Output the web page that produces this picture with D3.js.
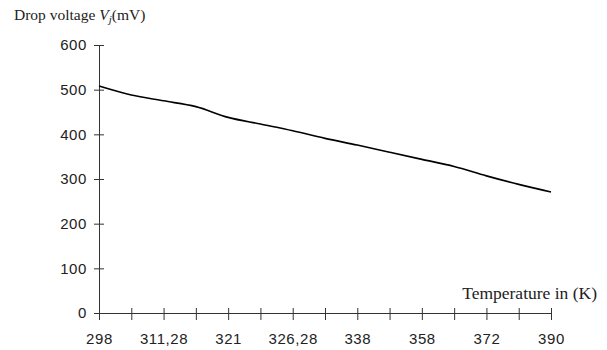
<!DOCTYPE html>
<html>
<head>
<meta charset="utf-8">
<script src="https://cdn.jsdelivr.net/npm/d3@7"></script>
<style>
  body { margin: 0; background: #fff; }
  .tick text { font-family: "Liberation Sans", Arial, sans-serif; font-size: 15px; letter-spacing: 0.6px; fill: #222; }
  .ttl { font-family: "Liberation Serif", "Times New Roman", serif; fill: #222; }
</style>
</head>
<body>
<script>
// data
var temps = ["298", "305", "311,28", "316", "321", "323", "326,28", "332", "338", "348", "358", "365", "372", "381", "390"];
var labelled = ["298", "311,28", "321", "326,28", "338", "358", "372", "390"];
var voltage = [508, 488, 475, 462, 438, 423, 408, 391, 376, 360, 344, 328, 307, 288, 271];
var yTicks = [0, 100, 200, 300, 400, 500, 600];

// graph
var W = 607, H = 350,
    margin = {top: 45, right: 56, bottom: 37, left: 99},
    width = W - margin.left - margin.right,
    height = H - margin.top - margin.bottom;

var svg = d3.select("body").append("svg")
    .attr("width", W)
    .attr("height", H)
  .append("g")
    .attr("transform", "translate(" + margin.left + "," + margin.top + ")");

var x = d3.scalePoint().domain(temps).range([0, width]);
var y = d3.scaleLinear().domain([0, 600]).range([height, 0]);

// axes
var yAxis = svg.append("g")
    .call(d3.axisLeft(y).tickValues(yTicks).tickSize(0).tickPadding(12));
yAxis.select(".domain").attr("stroke", "#333");
yAxis.selectAll(".tick").append("line")
    .attr("x1", -5).attr("x2", 5).attr("stroke", "#333");

var xAxis = svg.append("g")
    .attr("transform", "translate(0," + height + ")")
    .call(d3.axisBottom(x).tickSize(0).tickPadding(20)
      .tickFormat(d => labelled.indexOf(d) >= 0 ? d : ""));
xAxis.select(".domain").attr("stroke", "#333");
xAxis.selectAll(".tick").append("line")
    .attr("y1", -5).attr("y2", 7).attr("stroke", "#333");

// line
var line = d3.line()
    .x((d, i) => x(temps[i]))
    .y(d => y(d))
    .curve(d3.curveMonotoneX);

svg.append("path")
    .datum(voltage)
    .attr("d", line)
    .attr("fill", "none")
    .attr("stroke", "#000")
    .attr("stroke-width", 1.6);

// titles
var t = d3.select("svg").append("text")
    .attr("class", "ttl")
    .attr("font-size", "15.5px")
    .attr("x", 14).attr("y", 20);
t.append("tspan").text("Drop voltage ");
t.append("tspan").attr("font-style", "italic").text("V");
t.append("tspan").attr("font-style", "italic").attr("font-size", "11px").attr("dy", 3).text("j");
t.append("tspan").attr("dy", -3).text("(mV)");

d3.select("svg").append("text")
    .attr("class", "ttl")
    .attr("font-size", "17.5px")
    .attr("x", 597).attr("y", 299)
    .attr("text-anchor", "end")
    .text("Temperature in (K)");
</script>
</body>
</html>
